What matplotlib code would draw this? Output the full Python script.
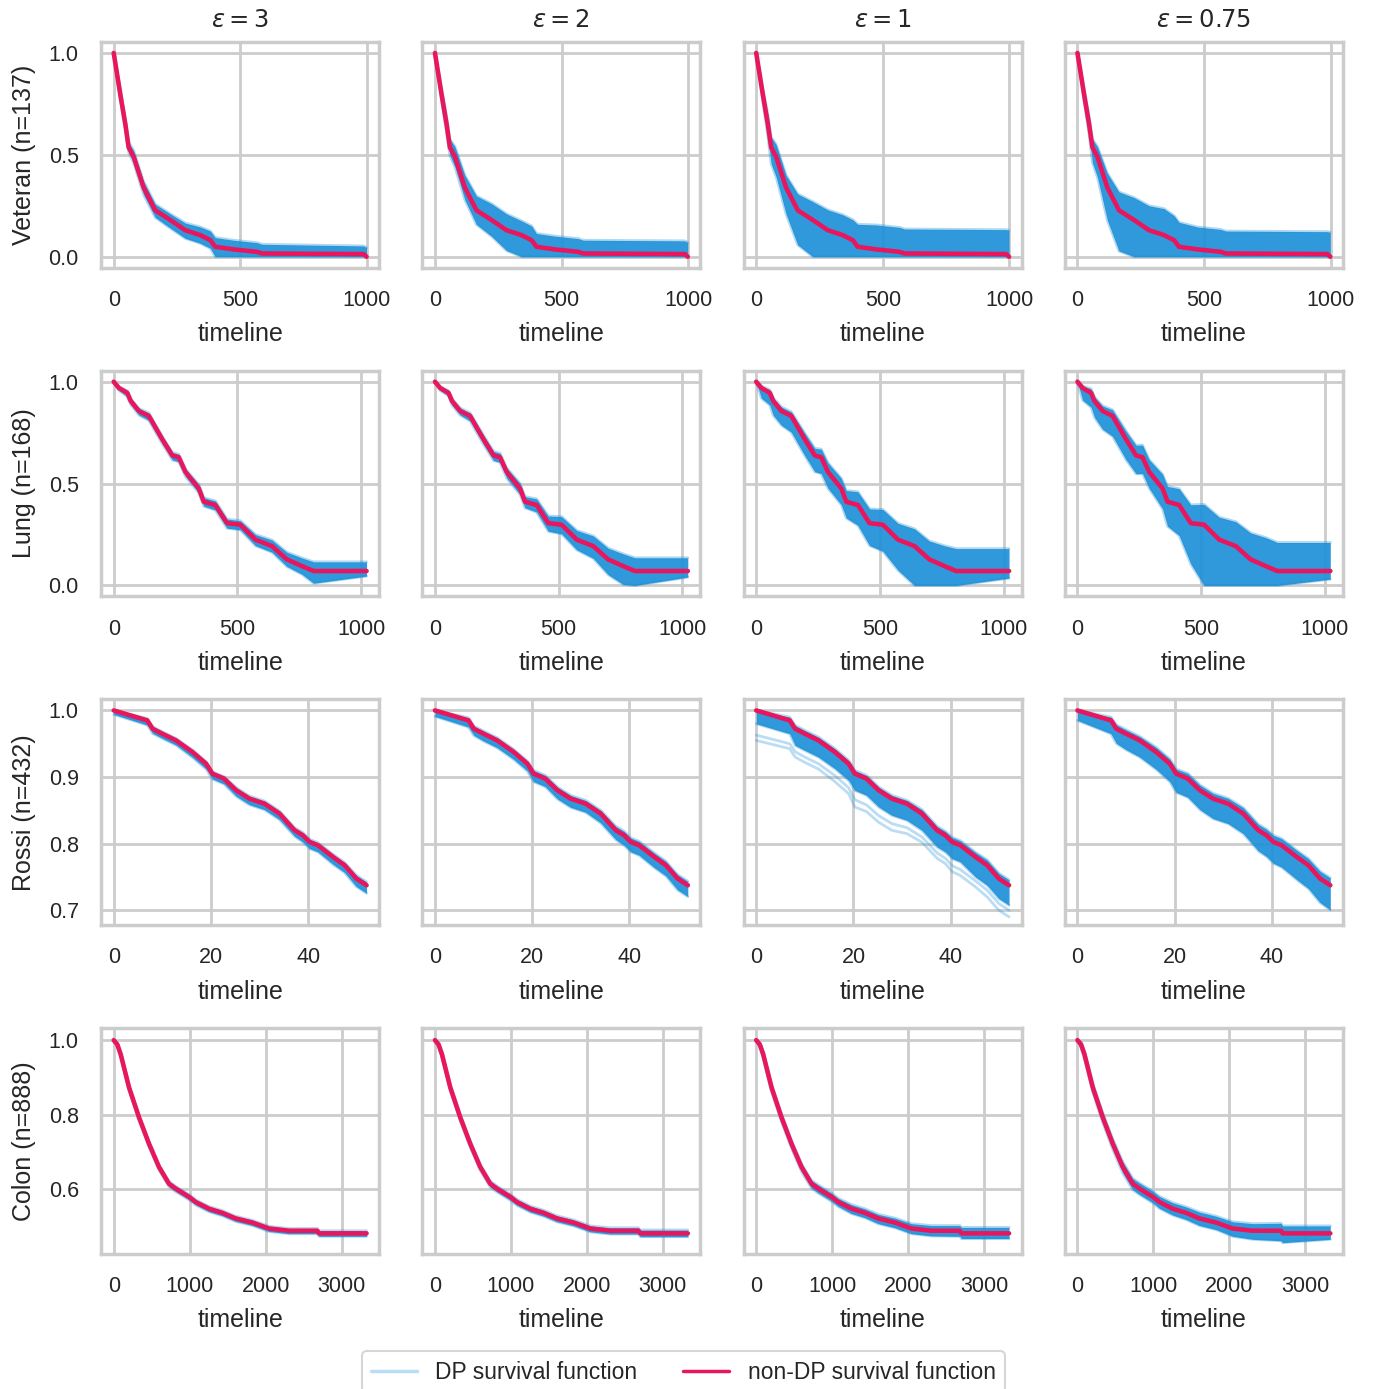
import matplotlib
matplotlib.use("Agg")
import matplotlib.pyplot as plt
import numpy as np
import seaborn as sns
from matplotlib.lines import Line2D

sns.set_style("whitegrid")
plt.rcParams['font.family'] = ['Liberation Sans', 'DejaVu Sans']
plt.rcParams['axes.edgecolor'] = '#cccccc'
plt.rcParams['grid.color'] = '#cccccc'

DP_BLUE = '#1e90d8'
NONDP_RED = '#e8175d'

epsilons = ['3', '2', '1', '0.75']

# ---- Veteran (n=137) ----
vet_t = [0, 26, 46, 59, 79, 118, 164, 224, 283, 342, 382, 401, 474, 566, 586, 987, 999]
vet_s = [1.0, 0.797, 0.65, 0.537, 0.49, 0.34, 0.228, 0.18, 0.13, 0.106, 0.081, 0.049, 0.036, 0.024, 0.016, 0.013, 0.0]
# spread of DP curves below / above the non-DP curve, one row per epsilon
vet_lo = [
    [0, .025, .025, .025, .03, .035, .035, .04, .04, .04, .04, .049, .036, .024, .016, .013, 0],
    [0, .03, .04, .04, .05, .06, .07, .08, .1, .106, .081, .049, .036, .024, .016, .013, 0],
    [0, .03, .06, .08, .1, .13, .17, .18, .13, .106, .081, .049, .036, .024, .016, .013, 0],
    [0, .03, .05, .075, .1, .16, .2, .18, .13, .106, .081, .049, .036, .024, .016, .013, 0],
]
vet_hi = [
    [0, .025, .025, .025, .03, .03, .03, .03, .035, .04, .045, .045, .045, .045, .045, .04, .045],
    [0, .03, .04, .04, .05, .06, .07, .08, .08, .07, .07, .065, .065, .065, .065, .065, .07],
    [0, .03, .05, .05, .06, .06, .08, .09, .1, .1, .1, .11, .12, .12, .12, .12, .13],
    [0, .03, .04, .04, .05, .07, .09, .11, .12, .13, .12, .12, .11, .11, .11, .11, .12],
]

# ---- Lung (n=168) ----
lung_t = [0, 21, 55, 69, 102, 142, 196, 237, 263, 290, 344, 364, 411, 458, 512, 573, 640, 700, 761, 808, 1022]
lung_s = [1.0, .969, .945, .905, .856, .832, .718, .638, .629, .557, .476, .411, .395, .306, .298, .225, .193, .128, .095, .071, .071]
lung_lo = [
    [0, .012, .018, .018, .02, .022, .022, .022, .022, .022, .022, .022, .025, .025, .025, .03, .03, .035, .04, .06, .025],
    [0, .012, .015, .02, .02, .025, .025, .025, .025, .03, .03, .03, .035, .04, .045, .05, .06, .075, .09, .071, .03],
    [0, .05, .06, .07, .07, .08, .08, .08, .08, .08, .08, .08, .1, .11, .13, .15, .193, .128, .095, .071, .035],
    [0, .06, .07, .08, .09, .1, .1, .09, .08, .08, .1, .12, .15, .2, .298, .225, .193, .128, .095, .071, .04],
]
lung_hi = [
    [0, .008, .01, .012, .012, .015, .015, .015, .015, .015, .02, .02, .02, .02, .02, .025, .03, .035, .04, .045, .045],
    [0, .008, .01, .012, .015, .015, .02, .02, .02, .02, .025, .025, .03, .035, .04, .045, .05, .055, .06, .065, .065],
    [0, .01, .015, .015, .02, .02, .03, .035, .04, .045, .05, .055, .065, .07, .075, .08, .085, .09, .1, .11, .11],
    [0, .01, .02, .02, .025, .03, .04, .05, .06, .06, .07, .075, .08, .09, .1, .11, .12, .13, .14, .14, .14],
]

# ---- Rossi (n=432) ----
rossi_t = [0, 6.9, 8, 10, 12.8, 16.2, 19, 20.3, 22.7, 25.2, 27.9, 31, 34.1, 37.2, 38.9, 40.3, 42, 45.1, 47.5, 49.9, 52]
rossi_s = [1.0, .985, .9725, .965, .955, .9375, .92, .905, .8975, .88, .8675, .86, .845, .82, .8125, .8025, .7975, .78, .7675, .7475, .7375]
rossi_lo = [
    [.006, .007, .007, .007, .007, .008, .008, .008, .008, .009, .009, .009, .009, .009, .01, .01, .01, .011, .011, .012, .012],
    [.009, .01, .01, .011, .011, .011, .011, .012, .012, .013, .013, .013, .014, .014, .015, .015, .015, .016, .016, .017, .017],
    [.02, .02, .025, .025, .025, .025, .025, .025, .025, .025, .025, .025, .025, .025, .025, .025, .025, .03, .03, .03, .03],
    [.015, .02, .022, .024, .025, .026, .027, .028, .028, .029, .03, .03, .03, .031, .032, .032, .033, .034, .035, .036, .037],
]
rossi_hi = [
    [0, .003, .003, .003, .003, .003, .003, .003, .003, .004, .004, .004, .004, .004, .004, .004, .004, .004, .004, .005, .005],
    [0, .004, .004, .004, .004, .004, .004, .005, .005, .005, .005, .005, .005, .006, .006, .006, .006, .006, .006, .006, .006],
    [0, .005, .005, .005, .005, .005, .005, .005, .005, .005, .005, .005, .006, .006, .006, .007, .007, .007, .008, .008, .008],
    [0, .005, .006, .006, .006, .007, .007, .007, .008, .008, .008, .008, .009, .009, .009, .01, .01, .01, .01, .011, .011],
]
# two stray DP curves well below the rest at epsilon = 1
rossi_stray = [
    [.955, .9425, .93, .922, .912, .893, .875, .855, .848, .832, .82, .815, .802, .778, .77, .758, .752, .735, .72, .7, .69],
    [.963, .95, .938, .93, .92, .902, .884, .866, .858, .842, .83, .824, .81, .786, .778, .767, .761, .744, .73, .71, .70],
]

# ---- Colon (n=888) ----
colon_t = [0, 48, 92, 202, 333, 465, 596, 728, 816, 991, 1079, 1254, 1430, 1605, 1825, 2044, 2307, 2680, 2702, 3329]
colon_s = [1.0, .988, .962, .873, .793, .722, .66, .615, .602, .58, .566, .548, .537, .522, .511, .495, .489, .489, .482, .482]
colon_lo = [
    [0, .006, .007, .008, .008, .008, .008, .008, .008, .008, .008, .008, .008, .008, .008, .008, .008, .008, .008, .008],
    [0, .007, .008, .009, .009, .009, .009, .009, .009, .009, .009, .009, .009, .009, .009, .009, .009, .009, .009, .009],
    [0, .008, .01, .011, .012, .012, .012, .012, .012, .012, .012, .013, .013, .014, .014, .014, .014, .015, .014, .014],
    [0, .009, .011, .013, .014, .015, .016, .016, .016, .016, .017, .017, .018, .019, .019, .021, .023, .027, .025, .016],
]
colon_hi = [
    [0, .005, .006, .006, .006, .006, .006, .006, .006, .006, .006, .006, .006, .006, .006, .006, .006, .006, .007, .007],
    [0, .006, .007, .007, .007, .007, .007, .007, .007, .007, .007, .007, .007, .007, .007, .007, .008, .008, .009, .009],
    [0, .006, .008, .009, .009, .009, .009, .009, .01, .01, .01, .011, .011, .011, .012, .013, .014, .014, .016, .016],
    [0, .007, .009, .011, .012, .013, .014, .014, .015, .015, .015, .016, .016, .017, .017, .018, .019, .02, .02, .02],
]

datasets = [
    ('Veteran (n=137)', vet_t, vet_s, vet_lo, vet_hi, [0, 500, 1000], [0.0, 0.5, 1.0], (-0.054, 1.054)),
    ('Lung (n=168)', lung_t, lung_s, lung_lo, lung_hi, [0, 500, 1000], [0.0, 0.5, 1.0], (-0.054, 1.054)),
    ('Rossi (n=432)', rossi_t, rossi_s, rossi_lo, rossi_hi, [0, 20, 40], [0.7, 0.8, 0.9, 1.0], (0.6775, 1.0165)),
    ('Colon (n=888)', colon_t, colon_s, colon_lo, colon_hi, [0, 1000, 2000, 3000], [0.6, 0.8, 1.0], (0.4267, 1.032)),
]

fig, axes = plt.subplots(4, 4, figsize=(13.75, 13.89), dpi=100, sharey='row')
fig.subplots_adjust(left=0.0735, right=0.9767, bottom=0.0972, top=0.9698, wspace=0.155, hspace=0.456)

for r, (name, t, s, lo, hi, xt, yt, ylim) in enumerate(datasets):
    t = np.array(t)
    s = np.array(s)
    for c in range(4):
        ax = axes[r, c]
        lower = np.clip(s - np.array(lo[c]), 0, None)
        upper = s + np.array(hi[c])
        ax.fill_between(t, lower, upper, color=DP_BLUE, alpha=0.92, lw=0, zorder=2)
        ax.plot(t, lower, color=DP_BLUE, alpha=0.35, lw=2, zorder=2)
        ax.plot(t, upper, color=DP_BLUE, alpha=0.35, lw=2, zorder=2)
        if name.startswith('Rossi') and c == 2:
            for stray in rossi_stray:
                ax.plot(t, stray, color=DP_BLUE, alpha=0.3, lw=2, zorder=2)
        ax.plot(t, s, color=NONDP_RED, lw=3.3, zorder=3)

        ax.set_xticks(xt)
        ax.set_yticks(yt)
        ax.set_ylim(*ylim)
        ax.set_xlabel('timeline', fontsize=18, labelpad=8)
        ax.tick_params(axis='both', labelsize=15.5, length=0, pad=16)
        ax.grid(True, lw=2, color='#cccccc')
        for sp in ax.spines.values():
            sp.set_linewidth(2.5)
            sp.set_color('#cccccc')
        if r == 0:
            ax.set_title(r'$\varepsilon = %s$' % epsilons[c], fontsize=17.5, pad=11)
        if c == 0:
            ax.set_ylabel(name, fontsize=18, labelpad=9)

handles = [Line2D([], [], color=DP_BLUE, alpha=0.3, lw=2.5),
           Line2D([], [], color=NONDP_RED, lw=2.5)]
leg = fig.legend(handles, ['DP survival function', 'non-DP survival function'],
                 loc='lower center', bbox_to_anchor=(0.497, -0.011), ncol=2,
                 fontsize=16.5, frameon=True, columnspacing=2.0, handlelength=2.0)
leg.get_frame().set_edgecolor('#cccccc')
leg.get_frame().set_linewidth(1.5)

fig.savefig('out.png', dpi=100)
